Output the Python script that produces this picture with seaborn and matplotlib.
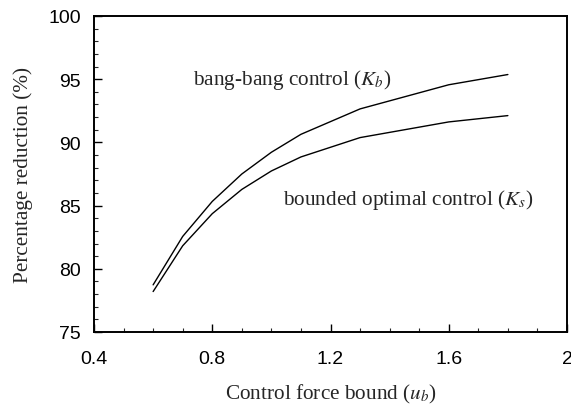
import numpy as np
import pandas as pd
import matplotlib
matplotlib.use("Agg")
import matplotlib.pyplot as plt
import seaborn as sns
from matplotlib.ticker import MultipleLocator

u_b = [0.6, 0.7, 0.8, 0.9, 1.0, 1.1, 1.3, 1.6, 1.8]
bang_bang = [78.73, 82.56, 85.33, 87.5, 89.22, 90.64, 92.65, 94.56, 95.37]
bounded = [78.2, 81.82, 84.36, 86.28, 87.74, 88.85, 90.38, 91.62, 92.12]
x_ticks = [0.4, 0.8, 1.2, 1.6, 2.0]
x_tick_labels = ["0.4", "0.8", "1.2", "1.6", "2"]
y_ticks = [75, 80, 85, 90, 95, 100]

sns.set_style("ticks")
plt.rcParams["mathtext.fontset"] = "stix"
plt.rcParams["font.family"] = ["Liberation Sans", "DejaVu Sans"]

df = pd.concat([
    pd.DataFrame({"u": u_b, "r": bang_bang, "s": "bang"}),
    pd.DataFrame({"u": u_b, "r": bounded, "s": "bounded"}),
])

fig = plt.figure(figsize=(5.71, 4.06), dpi=100)
ax = fig.add_axes([94 / 571, 1 - 333 / 406, (567 - 94) / 571, (333 - 17) / 406])
sns.lineplot(data=df, x="u", y="r", units="s", estimator=None, color="black",
             linewidth=1.0, ax=ax, legend=False)

ax.set_xlim(0.4, 2.0)
ax.set_ylim(75, 100)
ax.set_xticks(x_ticks)
ax.set_xticklabels(x_tick_labels)
ax.set_yticks(y_ticks)
ax.xaxis.set_minor_locator(MultipleLocator(0.1))
ax.yaxis.set_minor_locator(MultipleLocator(1))
ax.tick_params(axis="both", which="major", direction="in", length=5.5, width=1,
               labelsize=14, colors="black")
ax.tick_params(axis="x", which="major", pad=13)
ax.tick_params(axis="y", which="major", pad=9.5)
ax.tick_params(axis="both", which="minor", direction="in", length=3, width=0.8)
for sp in ax.spines.values():
    sp.set_visible(True)
    sp.set_linewidth(1.4)
    sp.set_color("black")

serif = ["Liberation Serif", "DejaVu Serif"]
fs = 15.3
ax.set_xlabel(r"Control force bound ($u_b$)", family=serif, fontsize=fs, labelpad=11)
ax.set_ylabel(r"Percentage reduction (%)", family=serif, fontsize=fs, labelpad=11)

ax.text(0.735, 95, r"bang-bang control ($K_b$)", family=serif, fontsize=fs,
        ha="left", va="center")
ax.text(1.038, 85.5, r"bounded optimal control ($K_s$)", family=serif, fontsize=fs,
        ha="left", va="center")

fig.savefig("out.png", dpi=100)
